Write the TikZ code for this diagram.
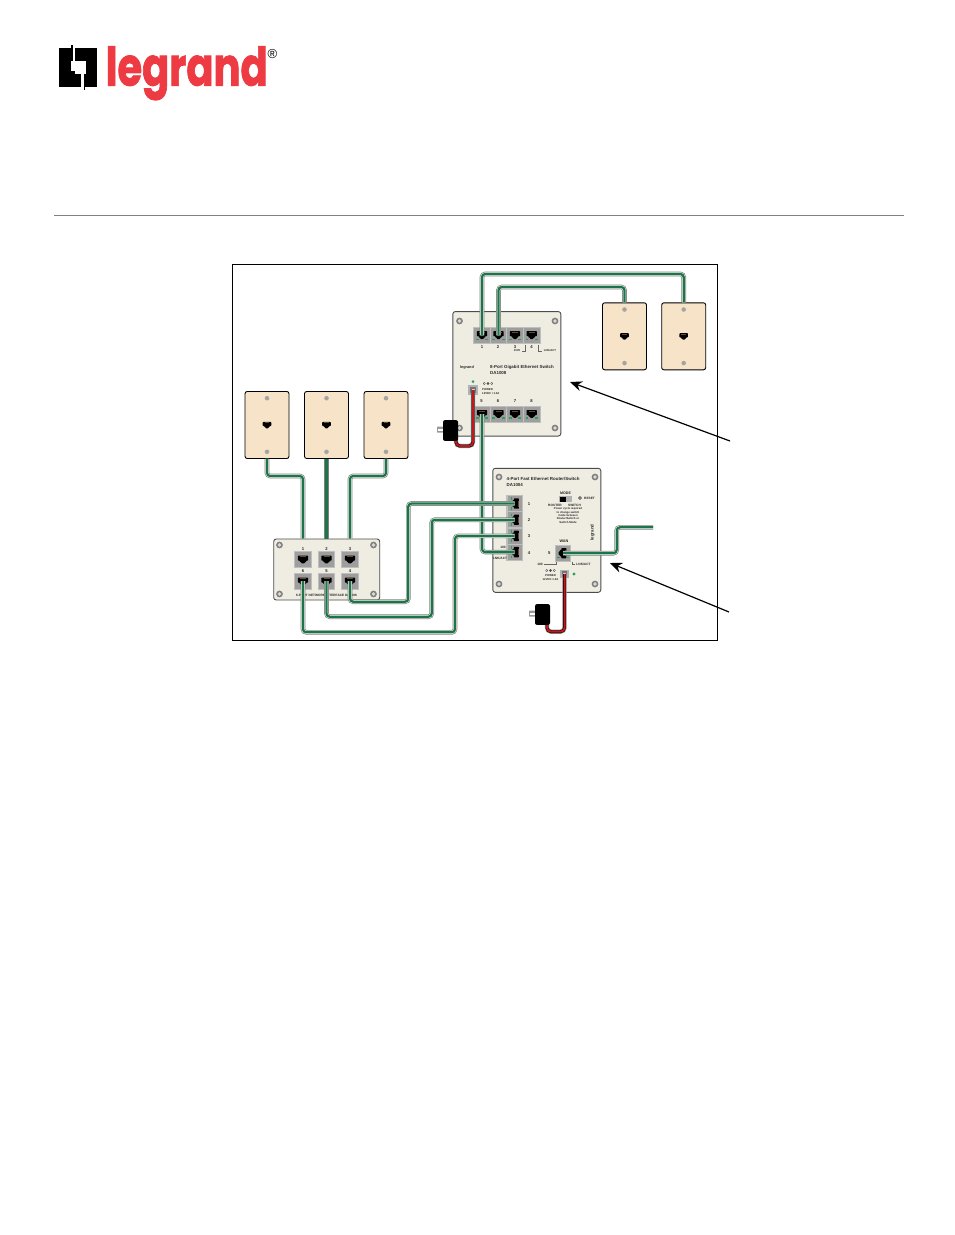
\documentclass[tikz,border=0pt]{standalone}
\usepackage{fontspec}
\usepackage{graphicx}
\setmainfont{Liberation Sans}
\newfontfamily\logofont[BoldFeatures={FakeBold=1.6}]{Poppins}
\usetikzlibrary{arrows.meta}
\definecolor{plate}{HTML}{F6E3C8}
\definecolor{board}{HTML}{EFEDE2}
\definecolor{cablegreen}{HTML}{1B7548}
\definecolor{cablered}{HTML}{C4161C}
\definecolor{logored}{HTML}{EE3A43}
\definecolor{ledgreen}{HTML}{2E9E5B}
\definecolor{jackbrown}{HTML}{6B4A2A}
\tikzset{
  wallplate/.style={draw=black,line width=0.9pt,fill=plate,rounded corners=2.2pt,minimum width=44pt,minimum height=67pt,inner sep=0pt},
  boardbox/.style={draw=black!70,line width=0.9pt,fill=board,rounded corners=2.5pt,inner sep=0pt},
  portbox/.style={draw=black!25,line width=0.8pt,fill=black!38,minimum width=16.4pt,minimum height=15.5pt,inner sep=0pt},
  cable/.style={rounded corners=3.2pt,preaction={draw=black!50,line width=4.6pt},preaction={draw=white,line width=3.2pt},draw=cablegreen,line width=2.3pt},
  redcable/.style={rounded corners=4pt,preaction={draw=black!45,line width=4.2pt},preaction={draw=black,line width=2.9pt},draw=cablered,line width=2pt},
  tiny/.style={font=\fontsize{3.2}{3.7}\selectfont\bfseries,inner sep=0pt,text=black!85},
  num/.style={font=\fontsize{4.2}{4.4}\selectfont\bfseries,inner sep=0pt,text=black!85},
  headline/.style={font=\fontsize{4.4}{5}\selectfont\bfseries,inner sep=0pt,text=black!85,anchor=west},
  callout/.style={draw=black,line width=1.2pt,-{Stealth[length=12pt,width=10pt]}},
  jackshape/.pic={
    \fill[black,rounded corners=0.6pt] (-5.2,-3.4)--(5.2,-3.4)--(5.2,1.6)--(3.1,1.6)--(3.1,3.1)--(1.6,3.1)--(1.6,4.4)--(-1.6,4.4)--(-1.6,3.1)--(-3.1,3.1)--(-3.1,1.6)--(-5.2,1.6)--cycle;
    \fill[jackbrown] (-3,-2.9) rectangle (3,-2.1);
  },
  leds/.pic={
    \fill[ledgreen] (-6.2,3.9) rectangle (-3.4,5);
    \fill[ledgreen] (3.4,3.9) rectangle (6.2,5);
  },
  screw/.pic={
    \fill[black!50] (0,0) circle (3.4pt);
    \fill[white!85!black] (0,0) circle (1.9pt);
  },
  platescrew/.pic={
    \fill[black!35] (0,0) circle (2.3pt);
    \fill[plate!70!black] (0,0) circle (1pt);
  },
  ledset/.pic={
    \draw[black!70,line width=0.4pt,fill=white] (-4.2,0) circle (1.3pt);
    \draw[black!70,line width=0.4pt,fill=black!70] (0,0) circle (1.3pt);
    \draw[black!70,line width=0.4pt,fill=white] (4.2,0) circle (1.3pt);
  },
  powerjack/.pic={
    \fill[black!30] (-5,-5) rectangle (5,5);
    \fill[black!55] (-3.4,-3.4) rectangle (3.4,3.4);
    \fill[black!20] (-1.5,-1.5) rectangle (1.5,1.5);
  },
  adapter/.pic={
    \fill[black!40,rounded corners=0.5pt] (-13.5,-3.8) rectangle (-6,2.2);
    \fill[white] (-12.5,-1.6) rectangle (-7,0);
    \fill[black,rounded corners=2pt] (-7.5,-10.4) rectangle (7.5,10.4);
  }
}
\begin{document}
\begin{tikzpicture}[x=1pt,y=-1pt]
\useasboundingbox (0,0) rectangle (954,1235);
\fill[white] (0,0) rectangle (954,1235);

% logo
\fill[black] (59,48.3) rectangle (96.7,86.7);
\fill[white] (71,61) rectangle (85.5,74.3);
\fill[white] (73.2,48.3) rectangle (75.4,61);
\fill[white] (81.4,74.3) rectangle (83.6,86.7);
\fill[black] (71.4,45) rectangle (73.2,61);
\fill[black] (83.6,74.3) rectangle (85.4,89.5);
\fill[black] (71,70.5) rectangle (75,74.3);
\node[anchor=north west,inner sep=0pt,text=logored] (logotext) at (105.5,46)
  {\resizebox*{162pt}{54pt}{\logofont\bfseries legrand}};
\node[inner sep=0pt,font=\fontsize{13}{13}\selectfont,text=black] (logoreg) at (272.5,54.5) {\textregistered};

% rule
\coordinate (ruleL) at (54,215.5);
\coordinate (ruleR) at (904,215.5);
\draw[black!50,line width=0.8pt] (ruleL) -- (ruleR);

% frame
\node[draw=black,line width=0.8pt,minimum width=485pt,minimum height=376pt,inner sep=0pt] (frame) at (475,452.5) {};

% boards
\node[boardbox,minimum width=108pt,minimum height=124.5pt] (switch) at (506.8,373.8) {};
\node[boardbox,minimum width=108pt,minimum height=124pt] (router) at (546.8,530.3) {};
\node[boardbox,minimum width=106pt,minimum height=61pt] (iface) at (326.7,569.5) {};
\foreach \x/\y in {459.5/321,555/321,459.5/428,555/428,499/477,595/477,499/584,595/584,279.5/545,373.5/545,279.5/594,373.5/594}
  \pic at (\x,\y) {screw};

% wall plates
\node[wallplate] (p1) at (267,425) {};
\node[wallplate] (p2) at (326.5,425) {};
\node[wallplate] (p3) at (386,425) {};
\node[wallplate] (p4) at (624.5,336.3) {};
\node[wallplate] (p5) at (683.7,336.3) {};
\foreach \x/\y in {267/425,326.5/425,386/425,624.5/336.3,683.7/336.3}{
  \pic at (\x,\y-26.8) {platescrew};
  \pic at (\x,\y+26.8) {platescrew};
  \pic[scale=0.82] at (\x,\y-0.3) {jackshape};
}

% switch ports
\node[fill=black!25,minimum width=67pt,minimum height=16pt,inner sep=0pt] (stop) at (507,335.3) {};
\node[fill=black!25,minimum width=67pt,minimum height=16pt,inner sep=0pt] (sbot) at (507,414.2) {};
\node[portbox] (s1) at (482,335.3) {};
\node[portbox] (s2) at (498.5,335.3) {};
\node[portbox] (s3) at (515,335.3) {};
\node[portbox] (s4) at (531.7,335.3) {};
\node[portbox] (s5) at (482,414.2) {};
\node[portbox] (s6) at (498.5,414.2) {};
\node[portbox] (s7) at (515,414.2) {};
\node[portbox] (s8) at (531.7,414.2) {};
\foreach \x in {482,498.5,515,531.7}{
  \pic at (\x,334.6) {jackshape};
  \pic at (\x,334.6) {leds};
  \pic at (\x,413.5) {jackshape};
  \pic at (\x,413.5) {leds};
}
\foreach \n/\x in {1/482,2/498,3/515,4/531.5}
  \node[num] (sn\n) at (\x,347) {\n};
\foreach \n/\x in {5/481.5,6/498,7/515,8/531.5}
  \node[num] (sn\n) at (\x,401) {\n};
\node[tiny,font=\fontsize{2.8}{3}\selectfont\bfseries] (s1000) at (517,351) {1000};
\node[tiny,font=\fontsize{2.8}{3}\selectfont\bfseries] (slnk) at (550,351) {LNK/ACT};
\coordinate (sl1a) at (525,344.5); \coordinate (sl1b) at (525,351); \coordinate (sl1c) at (522,351);
\coordinate (sl2a) at (538.5,344.5); \coordinate (sl2b) at (538.5,351); \coordinate (sl2c) at (541.5,351);
\draw[black!60,line width=0.3pt] (sl1a)--(sl1b)--(sl1c);
\draw[black!60,line width=0.3pt] (sl2a)--(sl2b)--(sl2c);
\node[tiny,font=\fontsize{3.8}{4}\selectfont\bfseries] (slogo) at (467,368) {legrand};
\node[headline] (stitle) at (490,367) {8-Port Gigabit Ethernet Switch};
\node[headline] (smodel) at (490,373) {DA1008};
\fill[ledgreen] (473,381.5) circle (1.5pt);
\pic at (473,390) {powerjack};
\pic[scale=0.9] at (488,383.5) {ledset};
\node[tiny,anchor=west,align=left,font=\fontsize{2.8}{3.2}\selectfont\bfseries] (spower) at (482,391.5) {POWER\\12VDC / 1.0A};

% router ports
\node[fill=black!25,minimum width=16.5pt,minimum height=66pt,inner sep=0pt] (rcol) at (514.7,527.5) {};
\node[portbox,minimum width=15.5pt,minimum height=16pt] (r1) at (514.7,503.5) {};
\node[portbox,minimum width=15.5pt,minimum height=16pt] (r2) at (514.7,519.7) {};
\node[portbox,minimum width=15.5pt,minimum height=16pt] (r3) at (514.7,535.9) {};
\node[portbox,minimum width=15.5pt,minimum height=16pt] (r4) at (514.7,552.1) {};
\foreach \y in {503.5,519.7,535.9,552.1}{
  \pic[rotate=-90] at (515.5,\y) {jackshape};
  \pic[rotate=-90] at (515.5,\y) {leds};
}
\foreach \n/\y in {1/504,2/520,3/536.5,4/553}
  \node[num] (rn\n) at (529,\y) {\n};
\node[headline] (rtitle) at (506.5,479.3) {4-Port Fast Ethernet Router/Switch};
\node[headline] (rmodel) at (506.5,485.3) {DA1004};
\node[tiny,font=\fontsize{3.6}{4}\selectfont\bfseries] (rmode) at (565.5,493) {MODE};
\fill[black!30] (559,496) rectangle (572,502);
\fill[black] (559.5,496.5) rectangle (565.5,501.5);
\draw[black!70,line width=0.5pt,fill=black!40] (580,498) circle (1.6pt);
\node[tiny,anchor=west] (rreset) at (584,498.3) {RESET};
\node[tiny] (rrouter) at (555,505) {ROUTER};
\node[tiny] (rswitch) at (574.5,505) {SWITCH};
\node[tiny,align=center,font=\fontsize{2.8}{3.4}\selectfont\bfseries] (rnote) at (568,515.5) {Power cycle required\\to change switch\\mode between\\Router/Switch or\\Switch Mode};
\node[tiny,rotate=90,font=\fontsize{4.4}{4}\selectfont\bfseries] (rlogo) at (592.5,532.5) {legrand};
\node[tiny,font=\fontsize{3.8}{4}\selectfont\bfseries] (rwanl) at (564,541.5) {WAN};
\node[num] (r5l) at (549.3,553) {5};
\node[portbox,minimum width=15.5pt,minimum height=15.5pt] (wan) at (563,553.2) {};
\pic[rotate=-90] at (563,553.2) {jackshape};
\pic at (563,553) {leds};
\node[tiny] (r100) at (540,564) {100};
\node[tiny] (r100b) at (503,547) {100};
\node[tiny] (rlnkb) at (500,558) {LNK/ACT};
\node[tiny] (rlnk) at (583.5,564.8) {LNK/ACT};
\coordinate (rla) at (556,561.5); \coordinate (rlb) at (556,564.5); \coordinate (rlc) at (544,564.5);
\coordinate (rld) at (572,561.5); \coordinate (rle) at (572,564.5); \coordinate (rlf) at (575,564.5);
\draw[black!60,line width=0.3pt] (rla)--(rlb)--(rlc);
\draw[black!60,line width=0.3pt] (rld)--(rle)--(rlf);
\pic[scale=0.85] at (564.5,574) {powerjack};
\pic[scale=0.9] at (550.5,570.5) {ledset};
\node[tiny,font=\fontsize{2.8}{3}\selectfont\bfseries] (rpow) at (550.5,575.3) {POWER};
\node[tiny,font=\fontsize{2.8}{3}\selectfont\bfseries] (rvolt) at (550.5,579.2) {12VDC 1.0A};
\fill[ledgreen] (574,574) circle (1.6pt);

% interface ports
\node[portbox,minimum height=16pt] (i1) at (303,559) {};
\node[portbox,minimum height=16pt] (i2) at (326.5,559) {};
\node[portbox,minimum height=16pt] (i3) at (350,559) {};
\node[portbox,minimum height=16pt] (i6) at (303,581) {};
\node[portbox,minimum height=16pt] (i5) at (326.5,581) {};
\node[portbox,minimum height=16pt] (i4) at (350,581) {};
\foreach \x in {303,326.5,350}{
  \pic at (\x,559) {jackshape};
  \pic at (\x,581) {jackshape};
}
\foreach \n/\x in {1/303,2/326.5,3/350}
  \node[num] (in\n) at (\x,549) {\n};
\foreach \n/\x in {6/303,5/326.5,4/350}
  \node[num] (in\n) at (\x,570.8) {\n};
\node[tiny] (ititle) at (326.5,595) {6-PORT NETWORK INTERFACE DA1006};

% data cables
\coordinate (c1) at (683.7,274);
\coordinate (c2) at (624.5,287);
\draw[cable] (s1.center) |- (c1) -- (p5.north);
\draw[cable] (s2.center) |- (c2) -- (p4.north);
\coordinate (c3) at (482,552.1);
\draw[cable] (s5.center) -- (c3) -- (r4.center);

\coordinate (c4a) at (267,476);
\coordinate (c4b) at (303,476);
\draw[cable] (p1.south) -- (c4a) -- (c4b) -- (i1 |- iface.north);
\draw[cable] (p2.south) -- (i2 |- iface.north);
\coordinate (c5a) at (386,476);
\coordinate (c5b) at (350,476);
\draw[cable] (p3.south) -- (c5a) -- (c5b) -- (i3 |- iface.north);

\coordinate (c6a) at (350,601.7);
\coordinate (c6b) at (408.3,601.7);
\coordinate (c6c) at (408.3,503.5);
\draw[cable] (i4.center) -- (c6a) -- (c6b) -- (c6c) -- (r1.center);
\coordinate (c7a) at (326.5,616.7);
\coordinate (c7b) at (431.7,616.7);
\coordinate (c7c) at (431.7,519.7);
\draw[cable] (i5.center) -- (c7a) -- (c7b) -- (c7c) -- (r2.center);
\coordinate (c8a) at (303,632.3);
\coordinate (c8b) at (455,632.3);
\coordinate (c8c) at (455,535.9);
\draw[cable] (i6.center) -- (c8a) -- (c8b) -- (c8c) -- (r3.center);

\coordinate (c9a) at (616.7,553.2);
\coordinate (c9b) at (616.7,527.3);
\coordinate (c9c) at (653,527.3);
\draw[cable] (wan.center) -- (c9a) -- (c9b) -- (c9c);

% power cables and adapters
\coordinate (spj) at (473,390);
\coordinate (sa) at (450.5,430.5);
\coordinate (sr1) at (473,446);
\coordinate (sr2) at (456,446);
\coordinate (sr3) at (456,439);
\draw[redcable] (spj) -- (sr1) -- (sr2) -- (sr3);
\pic at (sa) {adapter};
\coordinate (rpj) at (564.5,574);
\coordinate (ra) at (542.5,614.5);
\coordinate (rr1) at (564.5,631.7);
\coordinate (rr2) at (547,631.7);
\coordinate (rr3) at (547,623);
\draw[redcable] (rpj) -- (rr1) -- (rr2) -- (rr3);
\pic at (ra) {adapter};

% callouts
\coordinate (a1s) at (730,441);
\coordinate (a1e) at (570,382);
\coordinate (a2s) at (729,612);
\coordinate (a2e) at (610,563);
\draw[callout] (a1s) -- (a1e);
\draw[callout] (a2s) -- (a2e);
\end{tikzpicture}
\end{document}
